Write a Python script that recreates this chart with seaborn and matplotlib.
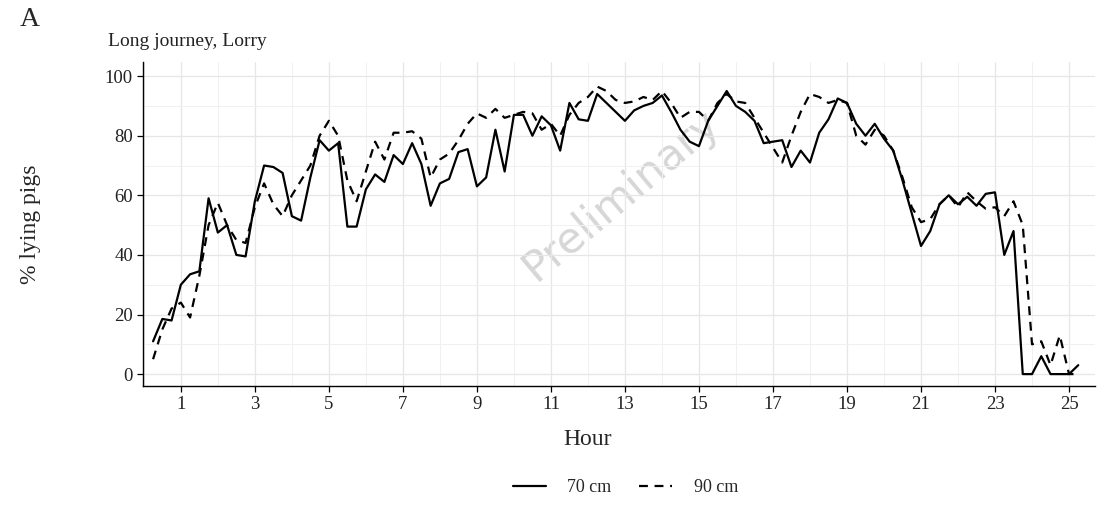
import numpy as np
import pandas as pd
import matplotlib
matplotlib.use("Agg")
import matplotlib.pyplot as plt
from matplotlib.ticker import MultipleLocator
from matplotlib.lines import Line2D
import seaborn as sns

# Quarter-hour sampling grid (hours since departure)
hours = np.arange(1, 102) * 0.25

# Percentage of pigs lying, per space allowance
lying_70cm = [
    11, 18.5, 18, 30, 33.5, 34.5, 59, 47.5, 50, 40,
    39.5, 58, 70, 69.5, 67.5, 53, 51.5, 66, 78.5, 75,
    77.5, 49.5, 49.5, 62, 67, 64.5, 73.5, 70.5, 77.5, 70.5,
    56.5, 64, 65.5, 74.5, 75.5, 63, 66, 82, 68, 87,
    87, 80, 86.5, 83.5, 75, 91, 85.5, 85, 94, 91,
    88, 85, 88.5, 90, 91, 93.5, 88, 82, 78, 76.5,
    85, 90, 95, 90, 88, 85, 77.5, 78, 78.5, 69.5,
    75, 71, 81, 85.5, 92.5, 91, 84, 80, 84, 79,
    75, 65, 54, 43, 48, 57, 60, 57, 59.5, 56.5,
    60.5, 61, 40, 48, 0, 0, 6, 0, 0, 0,
    3,
]
lying_90cm = [
    5, 15, 22, 24, 19, 33, 50, 57.5, 50, 45,
    44, 56, 64, 57, 53, 60, 65, 70, 80, 85,
    80, 65, 58, 68, 78, 72, 81, 81, 81.5, 79,
    66, 72, 74, 78.5, 84, 87.5, 86, 89, 86, 87,
    88, 87.5, 82, 84, 80, 87, 91, 93, 96.5, 95,
    92, 91, 91.5, 93, 92, 95, 91, 86, 88, 88,
    85, 91, 94, 91.5, 91, 86, 81, 76, 71, 80,
    88, 94, 93, 91, 92, 91, 80, 77, 82, 80,
    75, 66, 56, 51, 52, 57, 60, 56, 61, 58,
    55.5, 56, 53, 58, 50, 10, 11, 3, 13, 0,
    0,
]
widths = ["70 cm", "90 cm"]

df = pd.DataFrame({
    "Hour": np.concatenate([hours, hours]),
    "lying": np.concatenate([lying_70cm, lying_90cm]),
    "Width": np.repeat(widths, len(hours)),
})

sns.set_theme(style="white")
plt.rcParams["font.family"] = ["Liberation Serif", "DejaVu Serif"]

fig = plt.figure(figsize=(11.15, 5.05), dpi=100)
ax = fig.add_axes([0.128, 0.2356, 0.854, 0.6414])

sns.lineplot(
    data=df, x="Hour", y="lying", style="Width",
    style_order=widths,
    dashes={"70 cm": "", "90 cm": (4, 3)},
    color="black", linewidth=1.6, legend=False, ax=ax,
)

ax.set_xlim(-0.03, 25.7)
ax.set_ylim(-4, 104.7)
ax.xaxis.set_major_locator(MultipleLocator(2, offset=1))
ax.xaxis.set_minor_locator(MultipleLocator(2))
ax.yaxis.set_major_locator(MultipleLocator(20))
ax.yaxis.set_minor_locator(MultipleLocator(10))

ax.grid(which="major", color="#e6e6e6", linewidth=0.9)
ax.grid(which="minor", color="#f0f0f0", linewidth=0.7)
ax.set_axisbelow(True)

for side in ("top", "right"):
    ax.spines[side].set_visible(False)
for side in ("left", "bottom"):
    ax.spines[side].set_color("black")
    ax.spines[side].set_linewidth(1.0)

ax.tick_params(axis="both", which="major", direction="out", length=4,
               width=0.9, color="black", labelsize=13.5, labelcolor="#222222",
               bottom=True, left=True, pad=3)
ax.tick_params(axis="both", which="minor", length=0)
ax.set_xlabel("")
ax.set_ylabel("")

# Watermark
ax.text(12.9, 60, "Preliminary", fontsize=31, color="#cccccc", alpha=0.8,
        rotation=40, ha="center", va="center", family="DejaVu Sans",
        zorder=0)

fig.text(0.018, 0.962, "A", fontsize=20, ha="left", va="center")
fig.text(0.097, 0.917, "Long journey, Lorry", fontsize=14, ha="left",
         va="center", color="#222222")
fig.text(0.027, 0.556, "% lying pigs", fontsize=17, rotation=90,
         ha="center", va="center")
fig.text(0.527, 0.129, "Hour", fontsize=17, ha="center", va="center")

handles = [
    Line2D([], [], color="black", linewidth=1.6, linestyle="-"),
    Line2D([], [], color="black", linewidth=1.6, linestyle=(0, (4, 3))),
]
fig.legend(handles, widths, loc="center", bbox_to_anchor=(0.561, 0.034),
           ncol=2, frameon=False, fontsize=13, handlelength=1.8,
           columnspacing=1.55, handletextpad=1.2)

fig.savefig("out.png", dpi=100)
